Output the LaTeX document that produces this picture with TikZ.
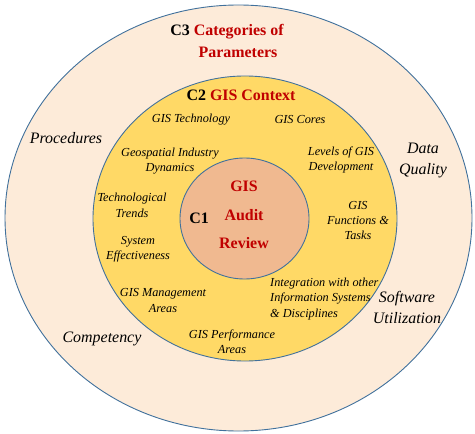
\documentclass[tikz,border=0pt]{standalone}
\usepackage{fontspec}
\setmainfont{Liberation Serif}
\definecolor{ringline}{HTML}{41719C}
\definecolor{outerfill}{HTML}{FDEBD9}
\definecolor{midfill}{HTML}{FFD966}
\definecolor{innerfill}{HTML}{F0B990}
\definecolor{titlered}{HTML}{C00000}
\tikzset{
  ring/.style={draw=ringline, line width=0.9bp},
  midlabel/.style={align=center, inner sep=0pt, font=\fontsize{12.3}{15.5}\selectfont\itshape},
  outlabel/.style={align=center, inner sep=0pt, font=\fontsize{16}{21}\selectfont\itshape},
  titlelabel/.style={align=center, inner sep=0pt, font=\fontsize{16}{20}\selectfont\bfseries},
}
\begin{document}
\begin{tikzpicture}[x=1bp,y=-1bp]
\useasboundingbox (0,0) rectangle (475,434);
% rings
\path[ring, fill=outerfill] (238.5,218) ellipse [x radius=233.5, y radius=213];
\path[ring, fill=midfill] (245,218.5) ellipse [x radius=152, y radius=142.5];
\path[ring, fill=innerfill] (244.5,218.5) ellipse [x radius=64.5, y radius=60.5];
% titles
\node[titlelabel] (t3a) at (227,32) {C3 \textcolor{titlered}{Categories of}};
\node[titlelabel, text=titlered] (t3b) at (238,52) {Parameters};
\node[titlelabel] (t2) at (241,95) {C2 \textcolor{titlered}{GIS Context}};
\node[titlelabel] (c1) at (199,218) {C1};
\node[titlelabel, text=titlered] (gis) at (244,186) {GIS};
\node[titlelabel, text=titlered] (audit) at (244,215) {Audit};
\node[titlelabel, text=titlered] (review) at (244,243) {Review};
% middle ring labels
\node[midlabel] (tech) at (191,120) {GIS Technology};
\node[midlabel] (cores) at (300,120) {GIS Cores};
\node[midlabel] (geo) at (170,161) {Geospatial Industry\\Dynamics};
\node[midlabel] (levels) at (341,160) {Levels of GIS\\Development};
\node[midlabel] (trends) at (132,205.5) {Technological\\Trends};
\node[midlabel] (func) at (358,220.5) {GIS\\Functions \&\\Tasks};
\node[midlabel] (sys) at (138,249.5) {System\\Effectiveness};
\node[midlabel] (mgmt) at (163,300.5) {GIS Management\\Areas};
\node[midlabel, align=left, anchor=west] (integ) at (270,299) {Integration with other\\Information Systems\\\& Disciplines};
\node[midlabel] (perf) at (232,342) {GIS Performance\\Areas};
% outer ring labels
\node[outlabel] (proc) at (66,138) {Procedures};
\node[outlabel] (dq) at (423,160.5) {Data\\Quality};
\node[outlabel] (soft) at (407,307.5) {Software\\Utilization};
\node[outlabel] (comp) at (102,339) {Competency};
\end{tikzpicture}
\end{document}
